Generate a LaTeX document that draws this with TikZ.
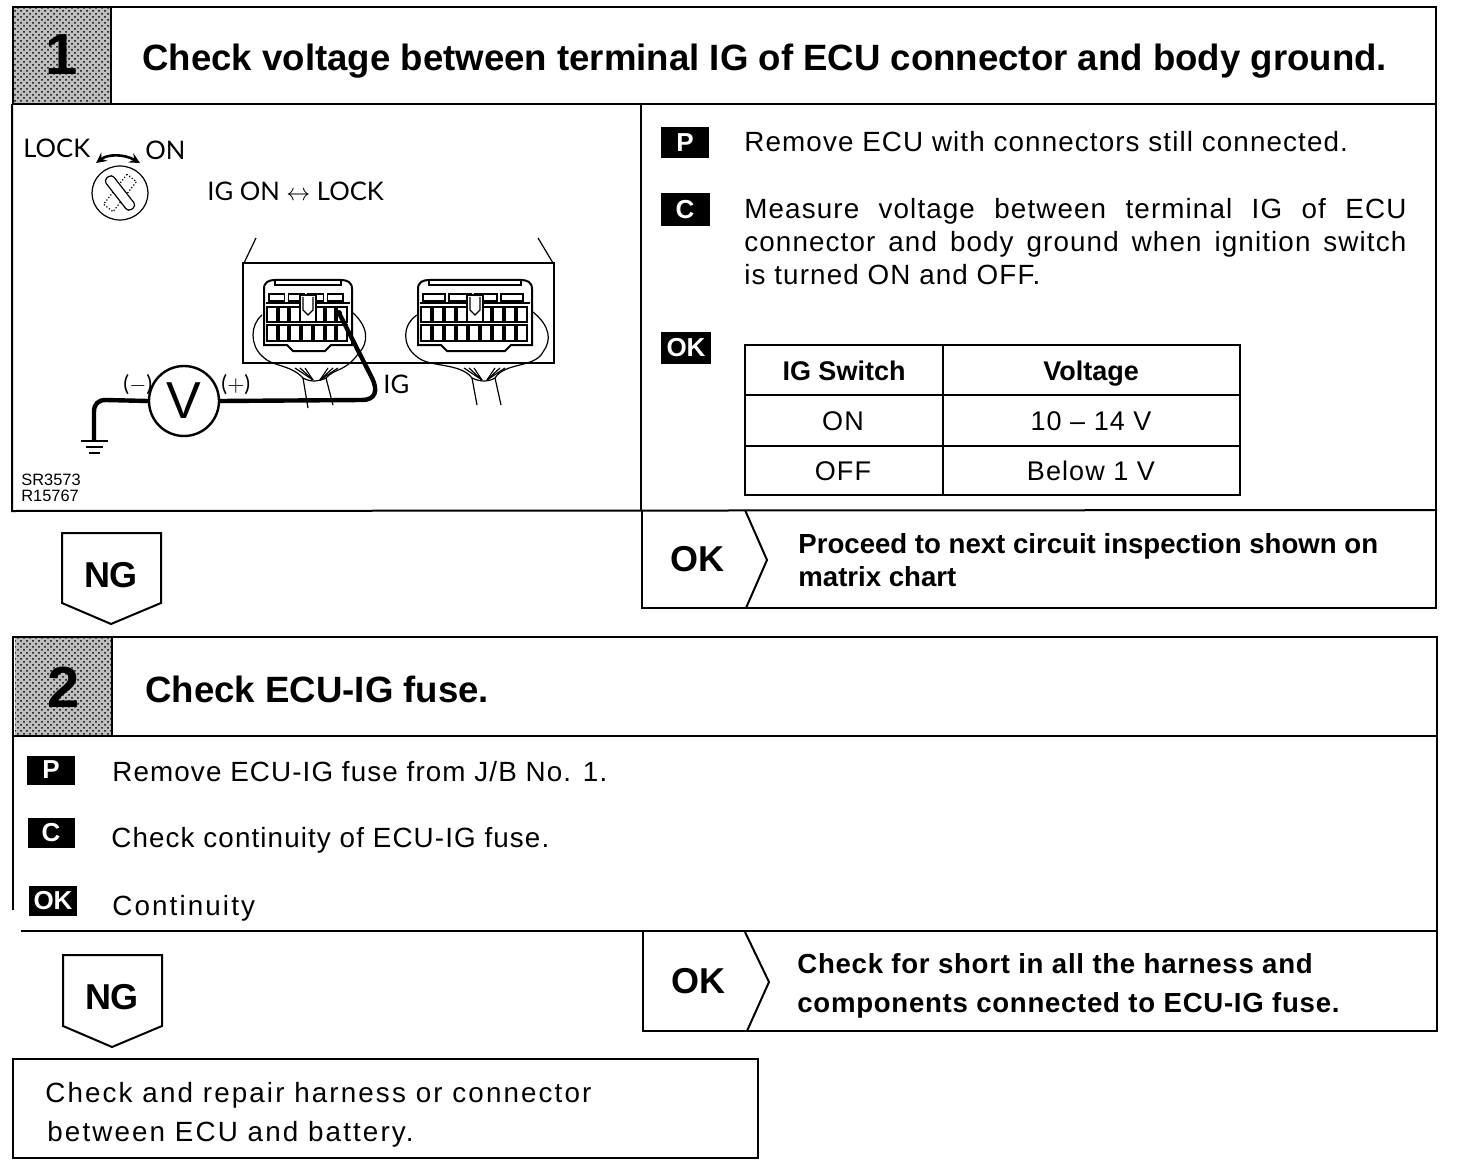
\documentclass[tikz,border=0pt]{standalone}
\usepackage{fontspec}
\setmainfont{Liberation Sans}
\newfontfamily\bodyfont[LetterSpace=4]{Liberation Sans}
\newfontfamily\widefont[LetterSpace=7.6]{Liberation Sans}
\newfontfamily\openbold[LetterSpace=2.6]{Liberation Sans}
\newfontfamily\wordfont{Lato}
\usetikzlibrary{patterns,calc}

\tikzset{
	frame/.style={line width=1pt},
	thinline/.style={line width=0.6pt},
	heavyline/.style={line width=2.2pt,line join=round},
	numberbox/.style={pattern=crosshatch dots,pattern color=black},
	tagbox/.style={fill=black,text=white,font=\bfseries\fontsize{13}{13}\selectfont,inner sep=0pt,align=center},
	headline/.style={anchor=base west,inner sep=0pt,font=\bfseries\fontsize{18.3}{20}\selectfont},
	bigdigit/.style={inner sep=0pt,font=\bfseries\fontsize{29}{29}\selectfont},
	bodyline/.style={anchor=base west,inner sep=0pt,font=\bodyfont\fontsize{13.9}{16.5}\selectfont},
	wideline/.style={anchor=base west,inner sep=0pt,font=\widefont\fontsize{13.9}{16.5}\selectfont},
	boldline/.style={anchor=base west,inner sep=0pt,font=\bfseries\fontsize{13.8}{16.5}\selectfont},
	openline/.style={anchor=base west,inner sep=0pt,font=\openbold\bfseries\fontsize{13.8}{16.5}\selectfont},
	cellline/.style={anchor=base,inner sep=0pt,font=\bodyfont\fontsize{13.5}{16.5}\selectfont},
	bigword/.style={inner sep=0pt,font=\bfseries\fontsize{18}{18}\selectfont},
	smallword/.style={anchor=base west,inner sep=0pt,font=\wordfont\fontsize{12.8}{13}\selectfont},
}

% one connector face, #1 = left x, #2 = width, #3 = cells in a row
\newcommand{\ecuplug}[3]{
	\pgfmathsetmacro{\plugw}{#2}
	\pgfmathsetmacro{\cellw}{(#2-8)/#3}
	\begin{scope}[shift={(#1,0)},thinline]
		\draw[line width=1pt] (1,345) -- (1,289) .. controls (1,282) and (6,280) .. (12,280)
			-- (\plugw-12,280) .. controls (\plugw-6,280) and (\plugw-1,282) .. (\plugw-1,289)
			-- (\plugw-1,345) -- (\plugw-22,345) -- (\plugw-28,351) -- (30,351) -- (24,345) -- cycle;
		\draw (12,280) -- (12,285) -- (\plugw-12,285) -- (\plugw-12,280);
		\draw[line width=0.9pt] (3,303) -- (\plugw-3,303);
		\foreach \k in {0,...,3}
			\draw ({6+\k*(\plugw-12)/4},294) rectangle ++({(\plugw-12)/4-4},7);
		\foreach \k in {1,...,#3} {
			\draw[line width=1pt] ({4+(\k-1)*\cellw},325) rectangle ++({\cellw-2},16);
			\draw[line width=1pt] ({4+(\k-1)*\cellw},307) rectangle ++({\cellw-2},15);
		}
		% key in the middle
		\draw[fill=white] ({\plugw/2-8},295) rectangle ({\plugw/2+8},322);
		\draw ({\plugw/2-5},297) -- ({\plugw/2-5},310) -- ({\plugw/2},315) -- ({\plugw/2+5},310) -- ({\plugw/2+5},297);
	\end{scope}
}

\begin{document}
\begin{tikzpicture}[x=0.5pt,y=-0.5pt]
	\useasboundingbox (0,0) rectangle (1472,1166);

	% section 1 frame
	\fill[black!25] (14,7) rectangle (111,104);
	\fill[numberbox] (14,7) rectangle (111,104);
	\draw[frame] (13,104) -- (13,7) -- (1436,7) -- (1436,608) -- (642,608) -- (642,510);
	\draw[frame] (13,104) -- (1436,104);
	\draw[frame] (111,7) -- (111,104);
	\draw[frame] (12,104) -- (12,511) -- (1437,510);
	\draw[frame] (641,104) -- (641,510);
	\draw[frame] (745,510) -- (767,560) -- (746,608);

	\node[bigdigit] (numone) at (62,55) {1};
	\node[headline] (headone) at (142,71) {Check voltage between terminal IG of ECU connector and body ground.};

	% switch
	\node[smallword] (lock) at (23,158) {LOCK};
	\node[smallword] (on) at (145,160) {ON};
	\draw[line width=1.3pt,<->,>=stealth] (96,163) .. controls (108,154) and (124,154) .. (140,163);
	\draw[thinline] (120,193) ellipse (28 and 27);
	\draw[thinline,densely dotted,rotate around={-38:(120,193)}] (114,174) rectangle (126,212);
	\draw[thinline,fill=white,rounded corners=2pt,rotate around={38:(120,193)}] (115,173) rectangle (125,213);
	\node[smallword] (igon) at (207,201) {IG ON $\leftrightarrow$ LOCK};

	% ecu case
	\draw[thinline] (243,263) rectangle (554,363);
	\draw[thinline] (244,263) -- (256,238);
	\draw[thinline] (553,263) -- (538,238);

	% connectors
	\ecuplug{263}{90}{7}
	\ecuplug{417}{116}{9}

	% covers and harness
	\draw[thinline] (262,315) .. controls (250,325) and (250,345) .. (262,356)
		.. controls (272,367) and (290,364) .. (303,378)
		.. controls (310,382) and (318,382) .. (326,378)
		.. controls (335,368) and (345,372) .. (358,354)
		.. controls (370,342) and (368,326) .. (352,312);
	\draw[thinline] (303,378) -- (308,408);
	\draw[thinline] (326,378) -- (333,405);
	\draw[thinline] (417,315) .. controls (402,325) and (402,345) .. (416,356)
		.. controls (428,368) and (460,362) .. (472,378)
		.. controls (480,382) and (488,382) .. (495,378)
		.. controls (505,362) and (535,368) .. (543,352)
		.. controls (552,340) and (550,326) .. (533,312);
	\draw[thinline] (472,378) -- (477,405);
	\draw[thinline] (495,378) -- (501,405);
	\foreach \dx in {-18,-13,-8} {
		\draw[thinline] (313,380) -- ++(\dx,-12);
		\draw[thinline] (482,380) -- ++(\dx,-12);
	}
	\foreach \dx in {8,13,18} {
		\draw[thinline] (320,380) -- ++(\dx,-12);
		\draw[thinline] (487,380) -- ++(\dx,-12);
	}

	% meter and wires
	\node[draw,circle,line width=1.2pt,minimum size=35pt,inner sep=0pt,font=\fontsize{26}{26}\selectfont,fill=white] (meter) at (184,401) {V};
	\coordinate (term) at (339,313);
	\coordinate (gnd) at (94,441);
	\fill (term) circle (3);
	\draw[heavyline] (meter.east) -- (362,400) .. controls (376,400) and (378,390) .. (372,378) -- (term);
	\draw[heavyline] (meter.west) -- (106,400) .. controls (98,400) and (94,404) .. (94,412) -- (gnd);
	\draw[line width=1.2pt] (81,441) -- (108,441);
	\draw[line width=1pt] (86,447) -- (103,447);
	\draw[line width=1pt] (89,453) -- (100,453);
	\node[smallword] (minus) at (123,391) {\fontsize{11}{11}\selectfont($-$)};
	\node[smallword] (plus) at (221,391) {\fontsize{11}{11}\selectfont($+$)};
	\node[smallword] (iglabel) at (383,393) {IG};
	\node[anchor=base west,inner sep=0pt,font=\fontsize{8.2}{9}\selectfont] (codeone) at (21,485) {SR3573};
	\node[anchor=base west,inner sep=0pt,font=\fontsize{8.2}{9}\selectfont] (codetwo) at (21,501) {R15767};

	% procedure of section 1
	\node[tagbox,minimum width=24pt,minimum height=15.5pt] (tagp) at (685,143) {P};
	\node[tagbox,minimum width=24.5pt,minimum height=16.5pt] (tagc) at (685,210) {C};
	\node[tagbox,minimum width=25pt,minimum height=16pt] (tagok) at (686,348) {OK};
	\node[bodyline] (stepp) at (744,152) {Remove ECU with connectors still connected.};
	\node[bodyline,anchor=north west,text width=331pt,align=justify] (stepc) at (744,198)
		{Measure voltage between terminal IG of ECU\linebreak connector and body ground when ignition switch\linebreak is turned ON and OFF.};

	% table
	\draw[line width=1.2pt] (745,345) rectangle (1240,495);
	\draw[frame] (745,395) -- (1240,395);
	\draw[frame] (745,446) -- (1240,446);
	\draw[frame] (943,345) -- (943,495);
	\node[cellline,font=\bfseries\fontsize{13.5}{16}\selectfont] (headsw) at (844,380) {IG Switch};
	\node[cellline,font=\bfseries\fontsize{13.5}{16}\selectfont] (headv) at (1091,380) {Voltage};
	\node[cellline] (swon) at (843,430) {ON};
	\node[cellline] (von) at (1091,430) {10 – 14 V};
	\node[cellline] (swoff) at (843,480) {OFF};
	\node[cellline] (voff) at (1091,480) {Below 1 V};

	% results of section 1
	\draw[frame] (62,533) -- (161,533) -- (161,603) -- (111,624) -- (62,603) -- cycle;
	\node[bigword] (ngone) at (111,575) {NG};
	\node[bigword] (okone) at (697,559) {OK};
	\node[boldline] (nextone) at (798,553) {Proceed to next circuit inspection shown on};
	\node[boldline] (nexttwo) at (798,586) {matrix chart};

	% section 2 frame
	\fill[black!25] (15,638) rectangle (112,736);
	\fill[numberbox] (15,638) rectangle (112,736);
	\draw[frame] (13,910) -- (13,637) -- (1437,637) -- (1437,1031) -- (643,1031) -- (643,931);
	\draw[frame] (13,736) -- (1437,736);
	\draw[frame] (112,637) -- (112,736);
	\draw[frame] (21,931) -- (1437,931);
	\draw[frame] (745,932) -- (769,982) -- (747,1031);

	\node[bigdigit] (numtwo) at (64,687) {2};
	\node[headline] (headtwo) at (145,702) {Check ECU-IG fuse.};

	% procedure of section 2
	\node[tagbox,minimum width=24pt,minimum height=14.5pt] (tagpp) at (51,770) {P};
	\node[tagbox,minimum width=23.5pt,minimum height=15pt] (tagcc) at (51,833) {C};
	\node[tagbox,minimum width=24pt,minimum height=15pt] (tagokk) at (53,901) {OK};
	\node[bodyline] (steppp) at (112,781) {Remove ECU-IG fuse from J/B No. 1.};
	\node[bodyline] (stepcc) at (111,847) {Check continuity of ECU-IG fuse.};
	\node[wideline] (stepok) at (112,915) {Continuity};

	% results of section 2
	\draw[frame] (63,955) -- (162,955) -- (162,1026) -- (112,1047) -- (63,1026) -- cycle;
	\node[bigword] (ngtwo) at (112,997) {NG};
	\node[bigword] (oktwo) at (698,981) {OK};
	\node[openline] (nextthree) at (797,973) {Check for short in all the harness and};
	\node[openline] (nextfour) at (797,1012) {components connected to ECU-IG fuse.};

	% last box
	\draw[frame] (13,1059) rectangle (758,1158);
	\node[wideline] (repairone) at (45,1102) {Check and repair harness or connector};
	\node[wideline] (repairtwo) at (47,1141) {between ECU and battery.};
\end{tikzpicture}
\end{document}
